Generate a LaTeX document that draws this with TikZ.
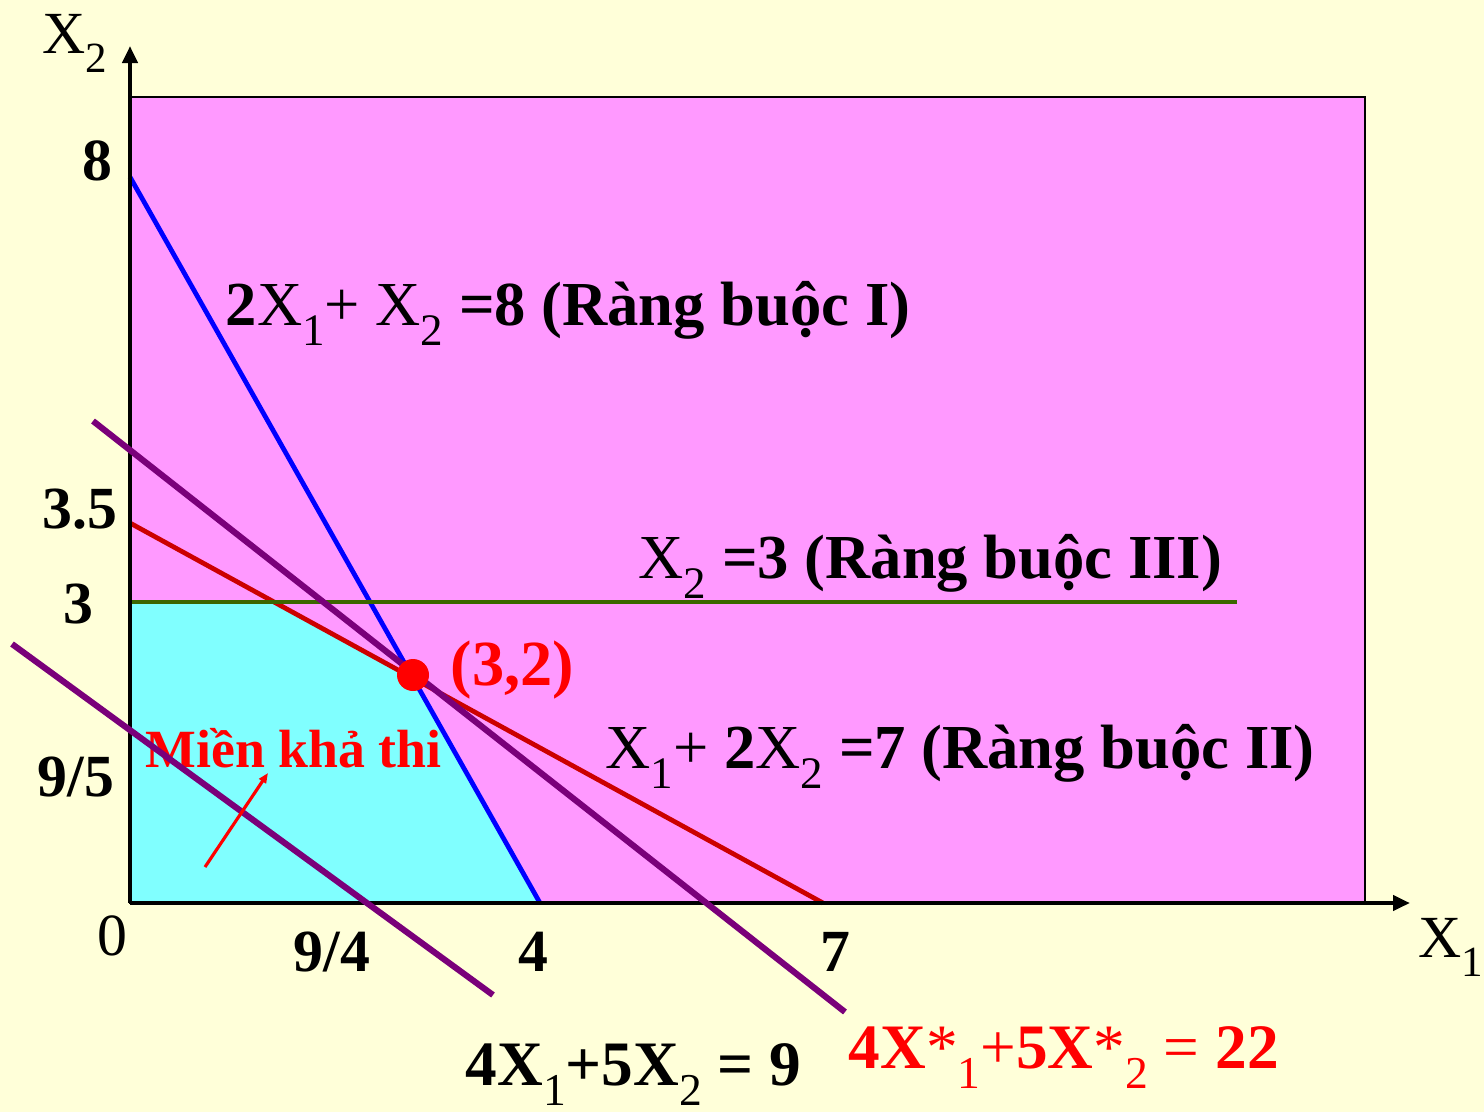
\documentclass[tikz,border=0pt]{standalone}
\usepackage{fontspec}
\usepackage{graphicx}
\setmainfont{Liberation Serif}
\usetikzlibrary{arrows.meta}
\definecolor{bgc}{HTML}{FFFFD9}
\definecolor{pinkc}{HTML}{FF99FF}
\definecolor{cyanc}{HTML}{80FFFF}
\definecolor{bluec}{HTML}{0000FF}
\definecolor{redl}{HTML}{CC0000}
\definecolor{greenl}{HTML}{3C6600}
\definecolor{purpl}{HTML}{7A007A}
\definecolor{redt}{HTML}{FF0000}
\newcommand\lsub[1]{\raisebox{-0.33em}{\scalebox{0.72}{#1}}}
\tikzset{
  axis/.style={line width=1.2pt, black, -{Triangle[length=0.17cm,width=0.15cm]}},
  cline/.style={line width=1.35pt},
  obj/.style={line width=1.75pt, purpl},
  lbl/.style={inner sep=0pt, font=\fontsize{17}{20}\selectfont},
  clbl/.style={inner sep=0pt, anchor=base west, font=\fontsize{17.8}{21}\selectfont},
  num/.style={inner sep=0pt, anchor=base, font=\fontsize{17}{20}\selectfont\bfseries},
  big/.style={inner sep=0pt, anchor=base west, font=\fontsize{18}{21}\selectfont\bfseries}
}
\begin{document}
\begin{tikzpicture}[x=0.01cm,y=-0.01cm]
\fill[bgc] (0,0) rectangle (1484,1112);
\useasboundingbox (0,0) rectangle (1484,1112);
% regions
\filldraw[fill=pinkc, draw=black, line width=0.6pt] (130,97) rectangle (1365,903);
\fill[cyanc] (130,903) -- (130,602) -- (274,602) -- (413,677) -- (540,903) -- cycle;
% named points
\coordinate (O) at (130,903);
\coordinate (xend) at (1410,903);
\coordinate (yend) at (130,46);
\coordinate (b1) at (130,177);
\coordinate (b2) at (540,903);
\coordinate (r1) at (130,523);
\coordinate (r2) at (823,903);
\coordinate (g1) at (130,602);
\coordinate (g2) at (1237,602);
\coordinate (p1) at (93,421);
\coordinate (p2) at (845,1012);
\coordinate (q1) at (12,644);
\coordinate (q2) at (493,995);
\coordinate (a1) at (205,867);
\coordinate (a2) at (268,773);
% constraint lines
\draw[cline, bluec] (b1) -- (b2);
\draw[cline, redl] (r1) -- (r2);
\draw[cline, greenl] (g1) -- (g2);
% axes
\draw[axis] (O) -- (xend);
\draw[axis] (O) -- (yend);
% labels
\node[clbl] (lI) at (225,325) {\textbf{2}X\lsub{1}+ X\lsub{2} \textbf{=8 (Ràng buộc I)}};
\node[clbl] (lIII) at (638,578) {X\lsub{2} \textbf{=3 (Ràng buộc III)}};
\node[clbl] (lII) at (605,768) {X\lsub{1}+ \textbf{2}X\lsub{2} \textbf{=7 (Ràng buộc II)}};
\node[lbl, anchor=base west, text=redt, font=\fontsize{15.3}{18}\selectfont\bfseries] (mkt) at (145,767) {Miền khả thi};
\node[lbl, anchor=base west, text=redt, font=\fontsize{18.3}{21}\selectfont\bfseries] (opt) at (450,685) {(3,2)};
% axis labels
\node[lbl, anchor=base west] (X2) at (42,53) {X\lsub{2}};
\node[lbl, anchor=base west] (X1) at (1418,957) {X\lsub{1}};
\node[num] (n8) at (97,180) {8};
\node[num] (n35) at (80,528) {3.5};
\node[num] (n3) at (78,623) {3};
\node[num] (n95) at (76,796) {9/5};
\node[num, font=\fontsize{17}{20}\selectfont] (n0) at (112,955) {0};
\node[num] (n94) at (332,971) {9/4};
\node[num] (n4) at (533,971) {4};
\node[num] (n7) at (835,971) {7};
% objective lines
\draw[obj] (p1) -- (p2);
\draw[obj] (q1) -- (q2);
% pointer arrow
\draw[line width=0.9pt, redt, -{Triangle[length=0.1cm,width=0.08cm]}] (a1) -- (a2);
% optimum point
\fill[redt] (413,675) circle (16);
% objective labels
\node[big] (z9) at (465,1085) {4X\lsub{\mdseries 1}+5X\lsub{\mdseries 2} = 9};
\node[big, text=redt] (z22) at (848,1068) {4X{\mdseries*}\lsub{\mdseries 1}{\mdseries+}5X{\mdseries*}\lsub{\mdseries 2} {\mdseries=} 22};
\end{tikzpicture}
\end{document}
